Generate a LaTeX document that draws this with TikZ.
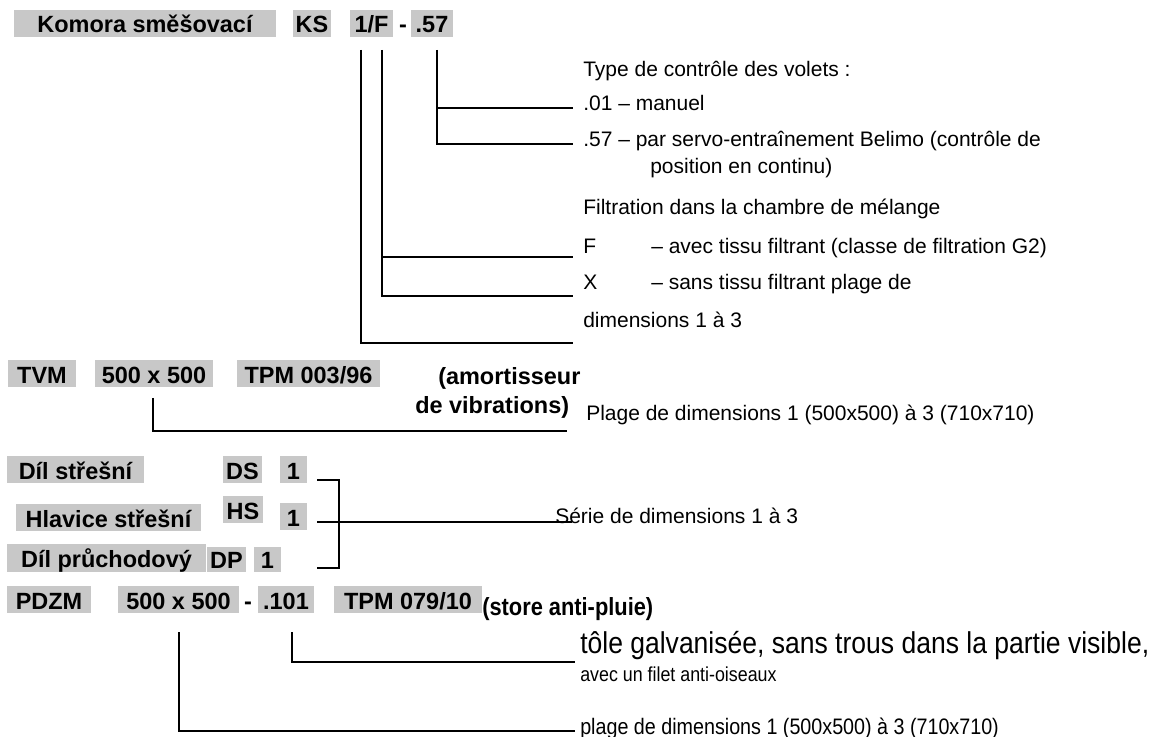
\documentclass[tikz,border=0pt]{standalone}
\usepackage{fontspec}
\setmainfont{Liberation Sans}
\newfontfamily\narrowfont[FakeStretch=0.88]{Liberation Sans}
\usetikzlibrary{fit}
\definecolor{boxgrey}{RGB}{200,200,200}
\newcommand\lblfont{\bfseries\fontsize{17.6}{20}\selectfont}
\newcommand\txtfont{\fontsize{15.75}{18}\selectfont}
\begin{document}
\begin{tikzpicture}[x=0.75pt,y=-0.75pt,
  box/.style={fill=boxgrey,inner sep=0pt},
  lbl/.style={inner sep=0pt,font=\lblfont,anchor=base},
  txt/.style={inner sep=0pt,font=\txtfont,anchor=base west},
  conn/.style={line width=1.8pt}]
\useasboundingbox (0,0) rectangle (1159,737);
% ---- Komora row
\node[box,fit={(14,10)(276,37)}] (komora) {};
\node[box,fit={(293,10)(331,37)}] (ks) {};
\node[box,fit={(350,10)(393,37)}] (onef) {};
\node[box,fit={(411,10)(453,37)}] (p57) {};
\node[lbl] (komoraT) at (komora.center |- 0,33) {Komora směšovací};
\node[lbl] (ksT) at (ks.center |- 0,33) {KS};
\node[lbl] (onefT) at (onef.center |- 0,33) {1/F};
\node[lbl] (dashA) at (403,33) {-};
\node[lbl] (p57T) at (p57.center |- 0,33) {.57};
% connectors
\coordinate (a1) at (361,50);
\coordinate (a2) at (382,50);
\coordinate (a3) at (437,50);
\coordinate (e3a) at (573,108);
\coordinate (e3b) at (573,144);
\coordinate (e2a) at (573,257);
\coordinate (e2b) at (573,296);
\coordinate (e1) at (573,343);
\draw[conn] (a3) |- (e3b);
\draw[conn] (a3 |- e3a) -- (e3a);
\draw[conn] (a2) |- (e2b);
\draw[conn] (a2 |- e2a) -- (e2a);
\draw[conn] (a1) |- (e1);
% texts
\node[txt] (typ) at (583,77) {Type de contrôle des volets :};
\node[txt] (t01) at (583,111) {.01 – manuel};
\node[txt] (t57) at (583,147) {.57 – par servo-entraînement Belimo (contrôle de};
\node[txt] (t57b) at (650,174) {position en continu)};
\node[txt] (filt) at (583,215) {Filtration dans la chambre de mélange};
\node[txt] (tf) at (583,254) {\makebox[51pt][l]{F}– avec tissu filtrant (classe de filtration G2)};
\node[txt] (tx) at (583,290) {\makebox[51pt][l]{X}– sans tissu filtrant plage de};
\node[txt] (tdim) at (583,328) {dimensions 1 à 3};
% ---- TVM row
\node[box,fit={(8,360)(76,387)}] (tvm) {};
\node[box,fit={(95,360)(213,387)}] (tvmsize) {};
\node[box,fit={(237,360)(380,387)}] (tvmtpm) {};
\node[lbl] (tvmT) at (tvm.center |- 0,384) {TVM};
\node[lbl] (tvmsizeT) at (tvmsize.center |- 0,384) {500 x 500};
\node[lbl] (tvmtpmT) at (tvmtpm.center |- 0,384) {TPM 003/96};
\node[txt,font=\lblfont] (amA) at (438,385) {(amortisseur};
\node[txt,font=\lblfont] (amB) at (415,413) {de vibrations)};
\coordinate (tv0) at (153,398);
\coordinate (tv1) at (567,431);
\draw[conn] (tv0) |- (tv1);
\node[txt] (tvtext) at (586,421) {Plage de dimensions 1 (500x500) à 3 (710x710)};
% ---- DS / HS / DP rows
\node[box,fit={(7,456)(144,483)}] (dsname) {};
\node[box,fit={(223,456)(262,483)}] (ds) {};
\node[box,fit={(280,456)(307,483)}] (ds1) {};
\node[box,fit={(16,504)(201,531)}] (hsname) {};
\node[box,fit={(223,496)(263,523)}] (hs) {};
\node[box,fit={(280,503)(307,530)}] (hs1) {};
\node[box,fit={(7,544)(206,572)}] (dpname) {};
\node[box,fit={(207,547)(246,572)}] (dp) {};
\node[box,fit={(254,547)(281,572)}] (dp1) {};
\node[lbl] (dsnameT) at (dsname.center |- 0,479) {Díl střešní};
\node[lbl] (dsT) at (ds.center |- 0,479) {DS};
\node[lbl] (ds1T) at (ds1.center |- 0,479) {1};
\node[lbl] (hsnameT) at (hsname.center |- 0,527) {Hlavice střešní};
\node[lbl] (hsT) at (hs.center |- 0,519) {HS};
\node[lbl] (hs1T) at (hs1.center |- 0,526) {1};
\node[lbl] (dpnameT) at (dpname.center |- 0,567) {Díl průchodový};
\node[lbl] (dpT) at (dp.center |- 0,568) {DP};
\node[lbl] (dp1T) at (dp1.center |- 0,568) {1};
\coordinate (b1) at (317,480);
\coordinate (b2) at (317,522);
\coordinate (b3) at (317,568);
\coordinate (bx) at (339,480);
\coordinate (be) at (572,522);
\draw[conn] (b1) -- (bx) |- (b3);
\draw[conn] (b2) -- (be);
\node[txt] (serie) at (555,523) {Série de dimensions 1 à 3};
% ---- PDZM row
\node[box,fit={(7,586)(91,613)}] (pdzm) {};
\node[box,fit={(118,586)(239,613)}] (pdsize) {};
\node[box,fit={(258,586)(314,613)}] (p101) {};
\node[box,fit={(334,586)(482,613)}] (pdtpm) {};
\node[lbl] (pdzmT) at (pdzm.center |- 0,609) {PDZM};
\node[lbl] (pdsizeT) at (pdsize.center |- 0,609) {500 x 500};
\node[lbl] (dashB) at (248,609) {-};
\node[lbl] (p101T) at (p101.center |- 0,609) {.101};
\node[lbl] (pdtpmT) at (pdtpm.center |- 0,609) {TPM 079/10};
\node[txt,font={\narrowfont\bfseries\fontsize{18.6}{20}\selectfont}] (store) at (482,615) {(store anti-pluie)};
\coordinate (p1) at (292,632);
\coordinate (p2) at (179,632);
\coordinate (q1) at (575,662);
\coordinate (q2) at (575,731);
\draw[conn] (p1) |- (q1);
\draw[conn] (p2) |- (q2);
\node[txt,font={\narrowfont\fontsize{22.6}{24}\selectfont}] (tole) at (580,653) {tôle galvanisée, sans trous dans la partie visible,};
\node[txt,font={\narrowfont\fontsize{15.2}{17}\selectfont}] (avec) at (580,681) {avec un filet anti-oiseaux};
\node[txt,font={\narrowfont\fontsize{16.8}{18}\selectfont}] (plage) at (580,734) {plage de dimensions 1 (500x500) à 3 (710x710)};
\end{tikzpicture}
\end{document}
